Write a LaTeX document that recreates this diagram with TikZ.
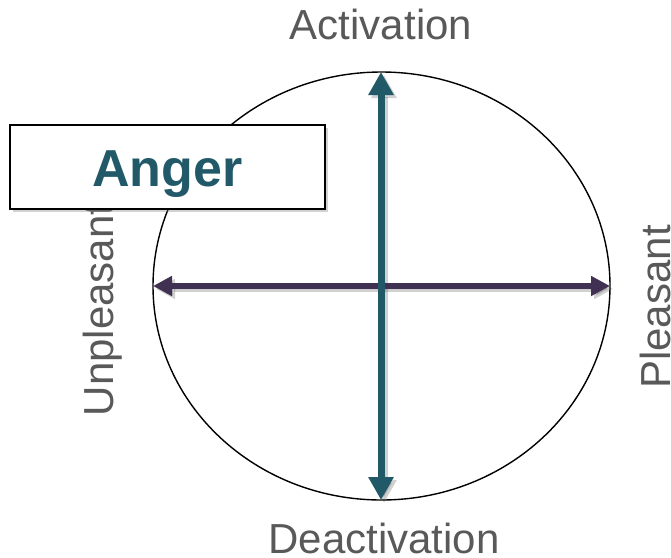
\documentclass[tikz,border=0pt]{standalone}
\usepackage{fontspec}
\setmainfont{Liberation Sans}
\usetikzlibrary{arrows.meta,shadows}
\definecolor{tealc}{HTML}{215968}
\definecolor{purplec}{HTML}{403152}
\definecolor{grayc}{HTML}{595959}
\tikzset{
  lbl/.style={text=grayc, inner sep=0pt, font=\fontsize{42}{48}\selectfont},
  vaxis/.style={line width=7pt, draw=tealc, {Triangle[width=24pt,length=23pt]}-{Triangle[width=24pt,length=23pt]}},
  haxis/.style={line width=6.5pt, draw=purplec, {Triangle[width=19pt,length=19pt]}-{Triangle[width=19pt,length=19pt]}},
  axshadow/.style={draw=black, opacity=0.18, fill=black},
  anglebox/.style={draw=black, line width=1.5pt, fill=white, minimum width=315pt, minimum height=84pt, inner sep=0pt,
    drop shadow={shadow xshift=3pt, shadow yshift=-3pt, opacity=0.35}},
}
\begin{document}
\begin{tikzpicture}[x=1pt,y=-1pt]
\useasboundingbox[fill=white] (0,0) rectangle (671,557);
% circle
\draw[line width=1.4pt] (381.5,286) ellipse [x radius=228.5pt, y radius=214pt];
\coordinate (top) at (381,72);
\coordinate (bot) at (381,500);
\coordinate (lft) at (153,286);
\coordinate (rgt) at (610,286);
\coordinate (tops) at (384,75);
\coordinate (bots) at (384,503);
\coordinate (lfts) at (156,289);
\coordinate (rgts) at (613,289);
% shadows of axes
\draw[haxis, axshadow, draw=black, fill=black] (lfts) -- (rgts);
\draw[vaxis, axshadow, draw=black, fill=black] (bots) -- (tops);
% axes
\draw[haxis, fill=purplec] (lft) -- (rgt);
\draw[vaxis, fill=tealc] (bot) -- (top);
% labels
\node[lbl, anchor=base] (act) at (381,39.5) {Activation};
\node[lbl, anchor=base] (deact) at (384,553) {Deactivation};
\node[lbl, rotate=90, anchor=base] (unp) at (113.5,310) {Unpleasant};
\node[lbl, rotate=90, anchor=base] (pls) at (670,307) {Pleasant};
% anger box
\node[anglebox] (anger) at (167.5,167) {};
\node[anchor=base, inner sep=0pt, text=tealc, font=\fontsize{52}{60}\selectfont\bfseries] (angertext) at (167.5,186) {Anger};
\end{tikzpicture}
\end{document}
